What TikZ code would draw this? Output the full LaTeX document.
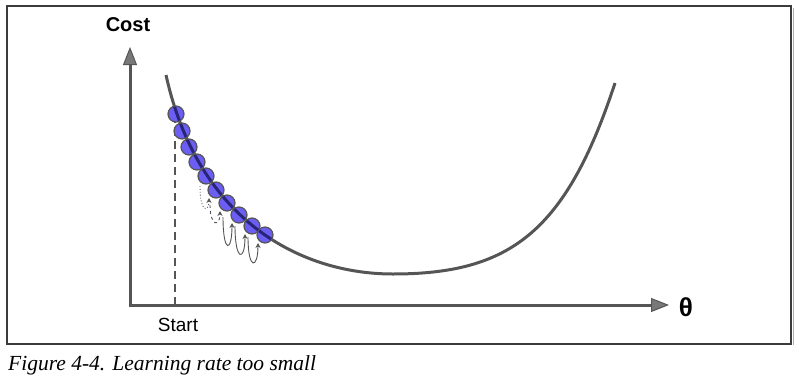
\documentclass[tikz,border=0pt]{standalone}
\usepackage{fontspec}
\setmainfont{Liberation Sans}
\newfontfamily\capfont{Liberation Serif}
\usetikzlibrary{arrows.meta}
\definecolor{axisgray}{RGB}{85,85,85}
\definecolor{headgray}{RGB}{120,120,120}
\definecolor{ballblue}{RGB}{108,94,242}
\definecolor{balldark}{RGB}{40,36,120}
\definecolor{framegray}{RGB}{60,60,60}
\tikzset{
  axisline/.style={draw=axisgray, line width=3pt, -{Triangle[length=18pt,width=14pt,fill=headgray,line width=1pt]}},
  costcurve/.style={draw=axisgray, line width=3pt},
  ball/.style={circle, draw=axisgray, line width=1.2pt, fill=ballblue, minimum size=16pt, inner sep=0pt},
  hop/.style={draw=axisgray, line width=0.9pt, -{Stealth[length=5pt,width=5pt]}},
  lbl/.style={inner sep=0pt, text=black},
}
\begin{document}
\begin{tikzpicture}[x=1pt,y=-1pt]
\useasboundingbox (0,0) rectangle (800,383);
% frame
\draw[framegray, line width=1.3pt] (7,6) rectangle (791,344);
\draw[gray!60, line width=1pt] (793,8) -- (793,345);
% coordinates for axes
\coordinate (origin) at (130,305);
\coordinate (ytip) at (130,47);
\coordinate (xtip) at (669,305);
\coordinate (dtop) at (175,113);
\coordinate (dbot) at (175,305);
% dashed start line
\draw[axisgray, line width=2pt, dash pattern=on 8pt off 5pt] (dbot) -- (dtop);
% curve
\def\costpath{(166,75) .. controls (198,220) and (300,274) .. (393,274) .. controls (510,274) and (566,232) .. (615,83)}
\draw[costcurve] \costpath;
% axes
\draw[axisline] (origin) -- (ytip);
\draw[axisline] ([xshift=-1.5pt]origin) -- (xtip);
% balls
\foreach \n/\x/\y in {1/176/114, 2/182/131, 3/189/147, 4/197/162, 5/206/176, 6/216/190, 7/227/203, 8/239/215, 9/252/226, 10/265/235}{
  \node[ball] (b\n) at (\x,\y) {};
}
% dark line through balls
\begin{scope}
\clip (176,114) circle (7.4pt) (182,131) circle (7.4pt) (189,147) circle (7.4pt) (197,162) circle (7.4pt) (206,176) circle (7.4pt) (216,190) circle (7.4pt) (227,203) circle (7.4pt) (239,215) circle (7.4pt) (252,226) circle (7.4pt) (265,235) circle (7.4pt);
\draw[balldark, line width=3pt] \costpath;
\end{scope}
% hops
\draw[hop, dotted] ([shift={(-6,10)}]b5.center) .. controls +(0,28) and +(0,14) .. ([shift={(-7,8)}]b6.center);
\draw[hop, dashed] ([shift={(-6,15)}]b6.center) .. controls +(0,22) and +(0,16) .. ([shift={(-7,8)}]b7.center);
\draw[hop] ([shift={(-4,14)}]b7.center) .. controls +(0,37) and +(0,30) .. ([shift={(-7,8)}]b8.center);
\draw[hop] ([shift={(-4,11)}]b8.center) .. controls +(0,36) and +(0,28) .. ([shift={(-7,8)}]b9.center);
\draw[hop] ([shift={(-4,11)}]b9.center) .. controls +(0,34) and +(0,26) .. ([shift={(-7,8)}]b10.center);
% labels
\node[lbl, font=\fontsize{20}{24}\selectfont\bfseries] (cost) at (128,25) {Cost};
\node[lbl, font=\fontsize{26}{30}\selectfont\bfseries] (theta) at (686,307) {θ};
\node[lbl, font=\fontsize{19}{23}\selectfont] (start) at (178,325) {Start};
\node[lbl, anchor=base west, font=\capfont\itshape\fontsize{21.5}{25}\selectfont] (caption) at (8,370) {Figure 4-4. Learning rate too small};
\end{tikzpicture}
\end{document}
